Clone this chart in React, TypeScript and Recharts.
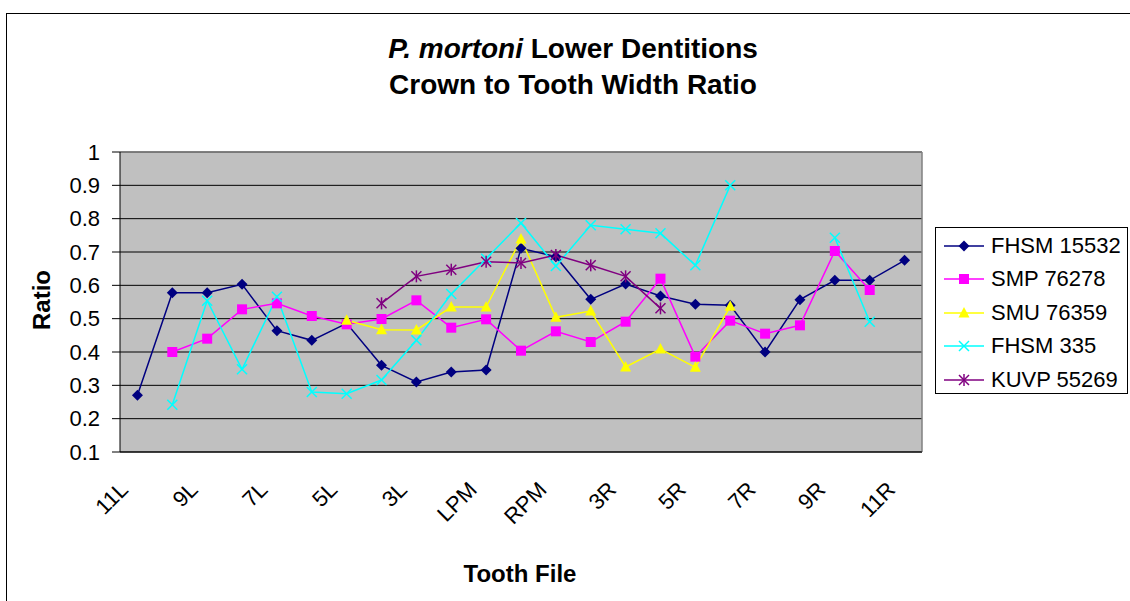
import React from "react";
import {
  LineChart,
  Line,
  XAxis,
  YAxis,
  CartesianGrid,
  Legend,
  ReferenceLine,
} from "recharts";

// tooth files, left to right (odd ones are not labelled on the axis)
const teeth = [
  "11L", "10L", "9L", "8L", "7L", "6L", "5L", "4L", "3L", "2L", "LPM", "M",
  "RPM", "2R", "3R", "4R", "5R", "6R", "7R", "8R", "9R", "10R", "11R",
];

const fhsm15532 = [
  0.27, 0.578, 0.578, 0.603, 0.464, 0.435, 0.486, 0.36, 0.31, 0.34, 0.346, 0.711,
  0.686, 0.558, 0.604, 0.568, 0.543, 0.54, 0.4, 0.557, 0.615, 0.615, 0.675,
];
const smp76278 = [
  null, 0.4, 0.44, 0.528, 0.546, 0.508, 0.483, 0.499, 0.555, 0.473, 0.498, 0.404,
  0.462, 0.43, 0.491, 0.62, 0.386, 0.494, 0.455, 0.48, 0.703, 0.586, null,
];
const smu76359 = [
  null, null, null, null, null, null, 0.495, 0.467, 0.466, 0.535, 0.535, 0.739,
  0.504, 0.523, 0.355, 0.409, 0.354, 0.537, null, null, null, null, null,
];
const fhsm335 = [
  null, 0.242, 0.554, 0.348, 0.566, 0.28, 0.275, 0.316, 0.435, 0.574, 0.68, 0.787,
  0.658, 0.78, 0.768, 0.756, 0.66, 0.9, null, null, 0.743, 0.491, null,
];
const kuvp55269 = [
  null, null, null, null, null, null, null, 0.546, 0.627, 0.647, 0.671, 0.667,
  0.691, 0.66, 0.627, 0.531, null, null, null, null, null, null, null,
];

const ratioTicks = [0.1, 0.2, 0.3, 0.4, 0.5, 0.6, 0.7, 0.8, 0.9, 1];

const series = [
  { key: "fhsm15532", name: "FHSM 15532", color: "#000080", shape: "diamond" },
  { key: "smp76278", name: "SMP 76278", color: "#FF00FF", shape: "square" },
  { key: "smu76359", name: "SMU 76359", color: "#FFFF00", shape: "triangle" },
  { key: "fhsm335", name: "FHSM 335", color: "#00FFFF", shape: "x" },
  { key: "kuvp55269", name: "KUVP 55269", color: "#800080", shape: "star" },
];

const data = teeth.map((t, i) => ({
  idx: i,
  tooth: t,
  fhsm15532: fhsm15532[i],
  smp76278: smp76278[i],
  smu76359: smu76359[i],
  fhsm335: fhsm335[i],
  kuvp55269: kuvp55269[i],
}));

const labelTicks = teeth.map((_, i) => i).filter((i) => i % 2 === 0);
const boundTicks = teeth.map((_, i) => i - 0.5).concat(teeth.length - 0.5);

const FONT = '"Liberation Sans", Arial, sans-serif';

function Marker({ shape, cx, cy, color }: { shape: string; cx: number; cy: number; color: string }) {
  if (shape === "diamond") {
    return <polygon points={`${cx},${cy - 5.5} ${cx + 5.5},${cy} ${cx},${cy + 5.5} ${cx - 5.5},${cy}`} fill={color} />;
  }
  if (shape === "square") {
    return <rect x={cx - 5} y={cy - 5} width={10} height={10} fill={color} />;
  }
  if (shape === "triangle") {
    return <polygon points={`${cx},${cy - 6} ${cx + 5.5},${cy + 4.5} ${cx - 5.5},${cy + 4.5}`} fill={color} />;
  }
  const x = (
    <>
      <line x1={cx - 5} y1={cy - 5} x2={cx + 5} y2={cy + 5} stroke={color} strokeWidth={1.5} />
      <line x1={cx - 5} y1={cy + 5} x2={cx + 5} y2={cy - 5} stroke={color} strokeWidth={1.5} />
    </>
  );
  if (shape === "x") return <g>{x}</g>;
  return (
    <g>
      {x}
      <line x1={cx} y1={cy - 6} x2={cx} y2={cy + 6} stroke={color} strokeWidth={1.5} />
    </g>
  );
}

const makeDot = (shape: string, color: string) => (props: any) => {
  const { cx, cy, index, value } = props;
  if (value == null || cx == null || cy == null) return <g key={`d-${index}`} />;
  return (
    <g key={`d-${index}`}>
      <Marker shape={shape} cx={cx} cy={cy} color={color} />
    </g>
  );
};

const XTick = (props: any) => {
  const { x, y, payload } = props;
  const ax = x - 8;
  const ay = y + 38;
  return (
    <text
      x={ax}
      y={ay}
      transform={`rotate(-45, ${ax}, ${ay})`}
      textAnchor="end"
      fontSize={22}
      fontFamily={FONT}
      fill="#000"
    >
      {teeth[payload.value]}
    </text>
  );
};

const LegendBox = (props: any) => {
  const items = [...(props.payload || [])].sort(
    (a: any, b: any) =>
      series.findIndex((s) => s.key === a.dataKey) - series.findIndex((s) => s.key === b.dataKey)
  );
  return (
    <div
      style={{
        border: "1px solid #000",
        background: "#fff",
        width: 193,
        height: 167,
        boxSizing: "border-box",
        paddingTop: 1,
        fontFamily: FONT,
        fontSize: 22,
      }}
    >
      {items.map((item: any) => {
        const s = series.find((d) => d.key === item.dataKey) || series[0];
        return (
          <div key={s.key} style={{ display: "flex", alignItems: "center", height: 33.5 }}>
            <svg width={40} height={20} style={{ marginLeft: 8 }}>
              <line x1={0} y1={10} x2={40} y2={10} stroke={s.color} strokeWidth={1.5} />
              <Marker shape={s.shape} cx={20} cy={10} color={s.color} />
            </svg>
            <span style={{ marginLeft: 7, whiteSpace: "nowrap" }}>{item.value}</span>
          </div>
        );
      })}
    </div>
  );
};

export default function App() {
  return (
    <div
      style={{
        position: "absolute",
        left: 0,
        top: 0,
        width: 1130,
        height: 601,
        overflow: "hidden",
        background: "#fff",
      }}
    >
      <div
        style={{
          position: "absolute",
          left: 6,
          top: 13,
          width: 1140,
          height: 620,
          border: "1px solid #000",
        }}
      />
      <div style={{ position: "absolute", left: 0, top: 0 }}>
        <LineChart
          width={1130}
          height={601}
          data={data}
          margin={{ top: 152, right: 208, left: 0, bottom: 48 }}
        >
          <CartesianGrid vertical={false} stroke="#000" fill="#C0C0C0" fillOpacity={1} />
          <XAxis
            xAxisId={0}
            type="number"
            domain={[-0.5, teeth.length - 0.5]}
            allowDataOverflow
            ticks={boundTicks}
            interval={0}
            height={1}
            tick={false}
            tickSize={7}
            tickLine={{ stroke: "#000" }}
            axisLine={{ stroke: "#000" }}
          />
          <XAxis
            xAxisId={1}
            type="number"
            dataKey="idx"
            domain={[-0.5, teeth.length - 0.5]}
            allowDataOverflow
            ticks={labelTicks}
            interval={0}
            height={100}
            tickSize={0}
            tickMargin={0}
            tickLine={false}
            axisLine={false}
            tick={<XTick />}
          />
          <YAxis
            type="number"
            domain={[0.1, 1]}
            allowDataOverflow
            ticks={ratioTicks}
            interval={0}
            width={120}
            tickSize={8}
            tickMargin={12}
            tickFormatter={(v: number) => (v === 1 ? "1" : v.toFixed(1))}
            tick={{ fontSize: 22, fill: "#000", fontFamily: FONT }}
            tickLine={{ stroke: "#000" }}
            axisLine={{ stroke: "#000" }}
          />
          <ReferenceLine y={1} xAxisId={1} stroke="#808080" strokeWidth={1.5} />
          <ReferenceLine x={teeth.length - 0.5} xAxisId={1} stroke="#808080" strokeWidth={1.5} />
          <Legend
            layout="vertical"
            align="center"
            verticalAlign="middle"
            content={<LegendBox />}
            wrapperStyle={{ left: 935, top: 227, width: 193, height: 167 }}
          />
          {series.map((s) => (
            <Line
              key={s.key}
              xAxisId={1}
              type="linear"
              dataKey={s.key}
              name={s.name}
              stroke={s.color}
              strokeWidth={1.5}
              dot={makeDot(s.shape, s.color)}
              activeDot={false}
              connectNulls={false}
              isAnimationActive={false}
            />
          ))}
        </LineChart>
      </div>
      <svg
        width={1130}
        height={601}
        style={{ position: "absolute", left: 0, top: 0, pointerEvents: "none" }}
        fontFamily={FONT}
        fontWeight="bold"
      >
        <text x={573} y={58} textAnchor="middle" fontSize={28} fill="#000">
          <tspan fontStyle="italic">P. mortoni</tspan>
          <tspan> Lower Dentitions</tspan>
        </text>
        <text x={573} y={94} textAnchor="middle" fontSize={28} fill="#000">
          Crown to Tooth Width Ratio
        </text>
        <text
          x={0}
          y={0}
          textAnchor="middle"
          fontSize={24}
          fill="#000"
          transform="translate(50, 300) rotate(-90)"
        >
          Ratio
        </text>
        <text x={520} y={582} textAnchor="middle" fontSize={24} fill="#000">
          Tooth File
        </text>
      </svg>
    </div>
  );
}
